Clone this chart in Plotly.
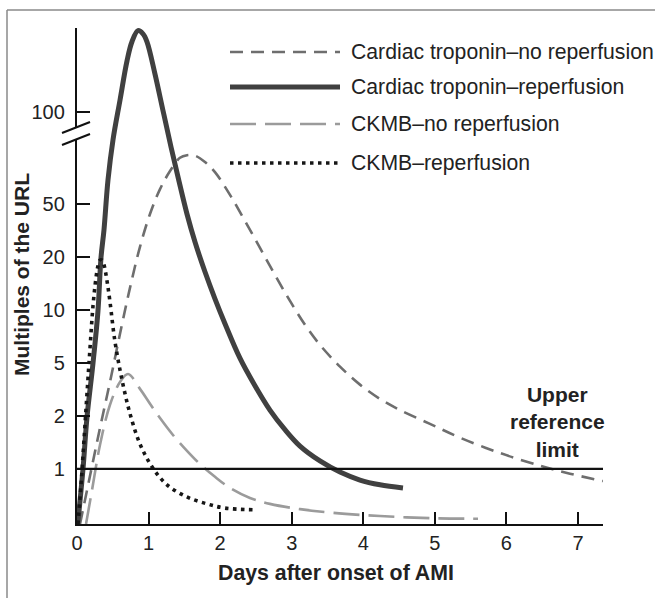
import plotly.graph_objects as go

# Vertical positions are on the chart's broken scale: one unit per tick
# (1, 2, 5, 10, 20, 50), with 100 above the break; -1.04 is the x-axis baseline.
y_tickvals = [0, 1, 2, 3, 4, 5, 6.74]
y_ticktext = ["1", "2", "5", "10", "20", "50", "100"]
x_tickvals = [0, 1, 2, 3, 4, 5, 6, 7]

# Cardiac troponin, reperfusion
trop_rep_days = [0.01, 0.084, 0.140, 0.224, 0.293, 0.335, 0.377, 0.433, 0.503, 0.601,
                 0.699, 0.768, 0.852, 0.922, 0.978, 1.090, 1.202, 1.313, 1.425, 1.537,
                 1.649, 1.788, 1.928, 2.068, 2.277, 2.487, 2.696, 2.906, 3.116, 3.395,
                 3.675, 3.954, 4.234, 4.555]
trop_rep_pos = [-1.04, 0.00, 0.98, 2.00, 2.98, 3.98, 4.51, 5.45, 6.21, 6.96,
                7.70, 8.06, 8.27, 8.21, 8.06, 7.45, 6.76, 6.08, 5.43, 4.81,
                4.28, 3.72, 3.21, 2.74, 2.09, 1.57, 1.11, 0.74, 0.43, 0.15,
                -0.06, -0.21, -0.30, -0.36]

# Cardiac troponin, no reperfusion
trop_norep_days = [0.042, 0.182, 0.321, 0.461, 0.601, 0.741, 0.880, 1.020, 1.160, 1.300,
                   1.439, 1.537, 1.649, 1.788, 1.928, 2.138, 2.347, 2.557, 2.766, 2.976,
                   3.186, 3.395, 3.675, 3.954, 4.234, 4.513, 4.932, 5.351, 5.910, 6.469,
                   6.888, 7.349]
trop_norep_pos = [-1.04, -0.13, 0.77, 1.64, 2.55, 3.42, 4.19, 4.81, 5.28, 5.62,
                  5.87, 5.92, 5.91, 5.79, 5.60, 5.17, 4.68, 4.17, 3.66, 3.17,
                  2.72, 2.34, 1.93, 1.59, 1.32, 1.11, 0.85, 0.59, 0.30, 0.06,
                  -0.09, -0.23]

# CKMB, no reperfusion
ckmb_norep_days = [0.126, 0.210, 0.321, 0.461, 0.601, 0.713, 0.880, 1.020, 1.160, 1.341,
                   1.537, 1.719, 1.928, 2.138, 2.417, 2.696, 3.116, 3.577, 4.234, 4.932,
                   5.603]
ckmb_norep_pos = [-1.04, -0.40, 0.45, 1.21, 1.64, 1.79, 1.51, 1.23, 0.96, 0.64,
                  0.34, 0.09, -0.15, -0.36, -0.55, -0.66, -0.76, -0.83, -0.89, -0.93,
                  -0.94]

# CKMB, reperfusion
ckmb_rep_days = [0.014, 0.056, 0.098, 0.140, 0.182, 0.224, 0.265, 0.293, 0.321, 0.349,
                 0.377, 0.419, 0.461, 0.531, 0.629, 0.741, 0.880, 1.048, 1.258, 1.537,
                 1.816, 2.068, 2.459]
ckmb_rep_pos = [-1.04, -0.30, 0.55, 1.43, 2.28, 3.08, 3.60, 3.83, 3.94, 3.94,
                3.85, 3.55, 3.15, 2.40, 1.68, 1.04, 0.47, 0.04, -0.30, -0.53,
                -0.66, -0.74, -0.77]

series_names = ["Cardiac troponin–no reperfusion", "Cardiac troponin–reperfusion",
                "CKMB–no reperfusion", "CKMB–reperfusion"]

FONT = "Liberation Sans, Arial, Helvetica, sans-serif"
INK = "#222222"

styles = {
    series_names[0]: dict(color="#6e6e6e", width=2.6, dash="13px,8px"),
    series_names[1]: dict(color="#404040", width=5, dash="solid"),
    series_names[2]: dict(color="#9b9b9b", width=2.6, dash="26px,9px"),
    series_names[3]: dict(color="#161616", width=3.6, dash="3.5px,4.5px"),
}

data = {
    series_names[0]: (trop_norep_days, trop_norep_pos),
    series_names[1]: (trop_rep_days, trop_rep_pos),
    series_names[2]: (ckmb_norep_days, ckmb_norep_pos),
    series_names[3]: (ckmb_rep_days, ckmb_rep_pos),
}

fig = go.Figure()
for name in [series_names[2], series_names[0], series_names[1], series_names[3]]:
    xs, ys = data[name]
    fig.add_trace(go.Scatter(x=xs, y=ys, mode="lines", name=name, showlegend=False,
                             line=dict(shape="spline", smoothing=1.0, **styles[name])))

W, H = 655, 598
ML, MR, MT, MB = 77, 52, 28, 74
PW, PH = W - ML - MR, H - MT - MB


def px_x(px):
    return (px - ML) / PW


def px_y(py):
    return (H - MB - py) / PH


shapes = []
# upper reference limit line at 1x URL
shapes.append(dict(type="line", xref="paper", yref="y", x0=0, x1=1, y0=0, y1=0,
                   line=dict(color="#111111", width=2.4)))
# axis break: white gap plus two slashes
shapes.append(dict(type="rect", xref="paper", yref="paper",
                   x0=px_x(74), x1=px_x(80), y0=px_y(139), y1=px_y(128),
                   fillcolor="white", line=dict(width=0), layer="above"))
for off in (0, 12):
    shapes.append(dict(type="line", xref="paper", yref="paper",
                       x0=px_x(62), y0=px_y(133 + off), x1=px_x(90), y1=px_y(122 + off),
                       line=dict(color="#111111", width=2.2), layer="above"))
# outer frame (top and left rules)
shapes.append(dict(type="line", xref="paper", yref="paper",
                   x0=px_x(7), x1=px_x(W + 5), y0=px_y(10), y1=px_y(10),
                   line=dict(color="#8a8a8a", width=1.5)))
shapes.append(dict(type="line", xref="paper", yref="paper",
                   x0=px_x(7), x1=px_x(7), y0=px_y(10), y1=px_y(H + 5),
                   line=dict(color="#8a8a8a", width=1.5)))

annotations = []
# hand-drawn legend
legend_rows = [52, 87, 124, 163]
for name, row in zip(series_names, legend_rows):
    st = styles[name]
    shapes.append(dict(type="line", xref="paper", yref="paper",
                       x0=px_x(230), x1=px_x(340), y0=px_y(row), y1=px_y(row),
                       line=dict(color=st["color"], width=st["width"], dash=st["dash"])))
    annotations.append(dict(xref="paper", yref="paper", x=px_x(349), y=px_y(row),
                            xanchor="left", yanchor="middle", showarrow=False,
                            text=name, font=dict(family=FONT, size=21.2, color=INK)))

annotations.append(dict(xref="x", yref="y", x=6.72, y=0.89, showarrow=False,
                        text="<b>Upper<br>reference<br>limit</b>", align="center",
                        xanchor="center", yanchor="middle",
                        font=dict(family=FONT, size=21, color=INK)))
annotations.append(dict(xref="paper", yref="paper", x=px_x(336), y=px_y(573),
                        showarrow=False, text="<b>Days after onset of AMI</b>",
                        xanchor="center", yanchor="middle",
                        font=dict(family=FONT, size=21.3, color=INK)))
annotations.append(dict(xref="paper", yref="paper", x=px_x(21), y=px_y(275),
                        showarrow=False, text="<b>Multiples of the URL</b>", textangle=-90,
                        xanchor="center", yanchor="middle",
                        font=dict(family=FONT, size=21, color=INK)))

fig.update_layout(
    width=W, height=H,
    margin=dict(l=ML, r=MR, t=MT, b=MB),
    paper_bgcolor="white", plot_bgcolor="white",
    showlegend=False,
    font=dict(family=FONT, size=20, color=INK),
    shapes=shapes, annotations=annotations,
    xaxis=dict(range=[0, 7.35], tickvals=x_tickvals, ticks="inside", ticklen=12,
               tickwidth=2.2, tickcolor="#111111", showline=True, linecolor="#111111",
               linewidth=2.4, showgrid=False, zeroline=False,
               tickfont=dict(family=FONT, size=20, color=INK)),
    yaxis=dict(range=[-1.04, 8.32], tickvals=y_tickvals, ticktext=y_ticktext,
               ticks="inside", ticklen=13, tickwidth=2.2, tickcolor="#111111",
               showline=True, linecolor="#111111", linewidth=2.4, showgrid=False,
               zeroline=False, ticklabelstandoff=6,
               tickfont=dict(family=FONT, size=20, color=INK)),
)

fig.write_html("out.html")
